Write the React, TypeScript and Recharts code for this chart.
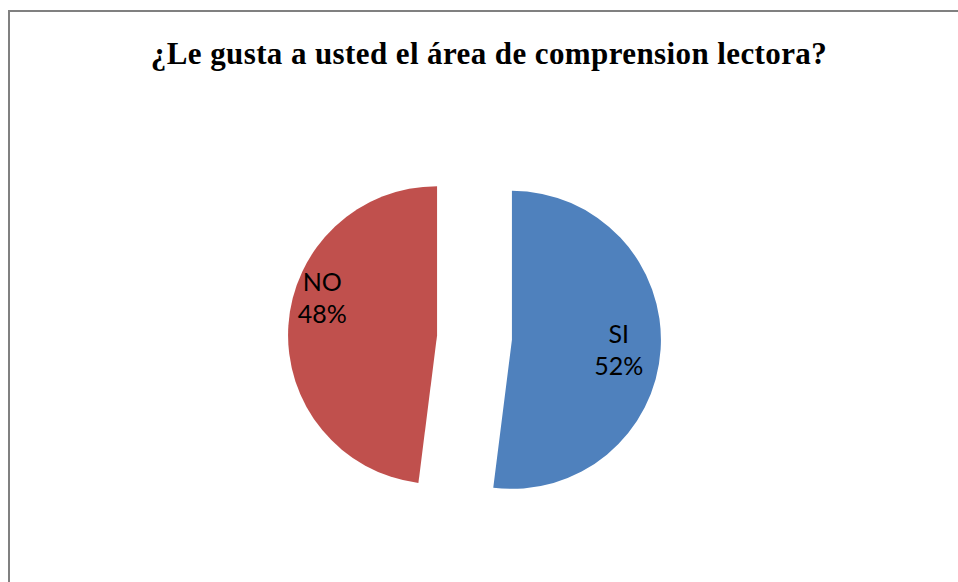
import React from 'react';
import { PieChart, Pie, Cell } from 'recharts';

const categories = ['SI', 'NO'];
const values = [52, 48];
const percentLabels = ['52%', '48%'];
const colors = ['#4F81BD', '#C0504D'];
const title = '¿Le gusta a usted el área de comprension lectora?';

const W = 958;
const H = 582;
const CX = 474.5;
const CY = 337.5;
const R = 149;
const EXPLODE = 37.5;
const RAD = Math.PI / 180;

// label placement relative to each exploded slice: fraction of radius, angle shift (deg)
const labelPlacement = [
  { r: 0.72, shift: -2 },
  { r: 0.81, shift: -14.4 },
];

const rows = categories.map((name, i) => ({ name, value: values[i], pct: percentLabels[i] }));
const total = values.reduce((a, b) => a + b, 0);

const sliceOffsets = (() => {
  let cum = 0;
  return values.map((v) => {
    const start = 90 - (360 * cum) / total;
    const end = start - (360 * v) / total;
    cum += v;
    const mid = (start + end) / 2;
    return { dx: EXPLODE * Math.cos(mid * RAD), dy: -EXPLODE * Math.sin(mid * RAD) };
  });
})();

const makeLabel = (idx: number) => (props: any) => {
  if (props.index !== idx) return null;
  const { cx, cy, midAngle, outerRadius } = props;
  const p = labelPlacement[idx];
  const a = (midAngle + p.shift) * RAD;
  const x = cx + outerRadius * p.r * Math.cos(a);
  const y = cy - outerRadius * p.r * Math.sin(a);
  return (
    <text
      key={`lbl-${idx}`}
      x={x}
      y={y}
      textAnchor="middle"
      fontFamily="Lato, 'Open Sans', sans-serif"
      fontSize={25}
      fill="#000"
    >
      <tspan x={x} y={y - 7}>{rows[idx].name}</tspan>
      <tspan x={x} y={y + 25}>{rows[idx].pct}</tspan>
    </text>
  );
};

export default function App() {
  return (
    <div
      style={{
        position: 'absolute',
        left: 0,
        top: 0,
        width: W,
        height: H,
        overflow: 'hidden',
        background: '#fff',
      }}
    >
      <div
        style={{
          position: 'absolute',
          left: 8,
          top: 10,
          width: W + 50,
          height: H + 50,
          borderTop: '2px solid #808080',
          borderLeft: '2px solid #808080',
        }}
      />
      <div style={{ position: 'absolute', left: 0, top: 0 }}>
        <PieChart width={W} height={H} margin={{ top: 0, right: 0, bottom: 0, left: 0 }}>
          <text
            x={489}
            y={64}
            textAnchor="middle"
            fontFamily="'Liberation Serif', 'Times New Roman', serif"
            fontWeight="bold"
            fontSize={31}
            letterSpacing={0.4}
            fill="#000"
          >
            {title}
          </text>
          {rows.map((_, i) => (
            <Pie
              key={`pie-${i}`}
              data={rows}
              dataKey="value"
              nameKey="name"
              cx={CX + sliceOffsets[i].dx}
              cy={CY + sliceOffsets[i].dy}
              innerRadius={0}
              outerRadius={R}
              startAngle={90}
              endAngle={-270}
              stroke="none"
              isAnimationActive={false}
              labelLine={false}
              label={makeLabel(i)}
            >
              {rows.map((__, j) => (
                <Cell key={`c-${i}-${j}`} fill={j === i ? colors[j] : 'transparent'} stroke="none" />
              ))}
            </Pie>
          ))}
        </PieChart>
      </div>
    </div>
  );
}
